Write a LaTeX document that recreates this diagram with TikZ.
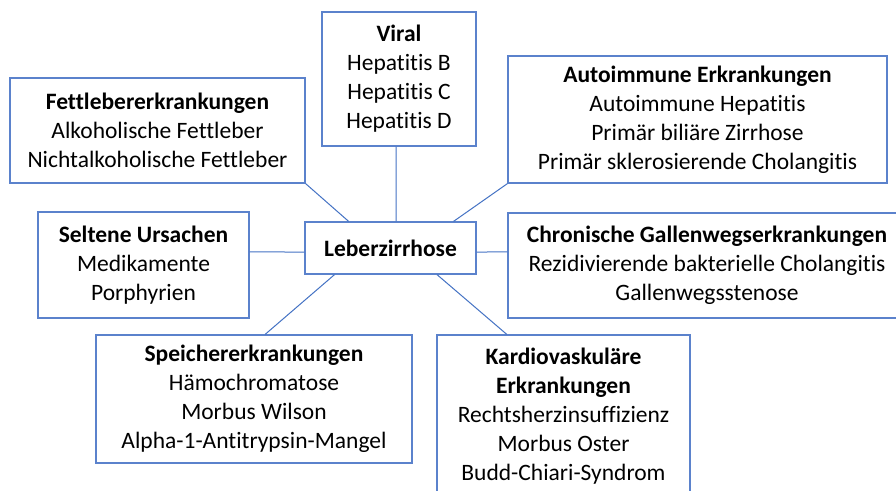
\documentclass[tikz,border=0pt]{standalone}
\usepackage{fontspec}
\setmainfont[Ligatures=NoCommon]{Carlito}
\usetikzlibrary{calc}
\definecolor{lineblue}{HTML}{4472C4}
\definecolor{boxblue}{HTML}{5B82CC}
\tikzset{
  cbox/.style={draw=boxblue, line width=1.2pt, fill=white, align=center, inner sep=0pt,
    font=\fontsize{23.5}{29}\selectfont},
  conn/.style={draw=lineblue, line width=1pt}
}
\begin{document}
\begin{tikzpicture}[x=1pt,y=-1pt]
\clip (0,0) rectangle (896,490);
\fill[white] (0,0) rectangle (896,490);
\node[cbox, minimum width=295pt, minimum height=105pt] (fett) at (157.5,130.5)
  {\textbf{Fettlebererkrankungen}\\Alkoholische Fettleber\\Nichtalkoholische Fettleber};
\node[cbox, minimum width=154pt, minimum height=134pt] (viral) at (399,79)
  {\textbf{Viral}\\Hepatitis B\\Hepatitis C\\Hepatitis D};
\node[cbox, minimum width=379pt, minimum height=127pt] (auto) at (697.5,119.5)
  {\textbf{Autoimmune Erkrankungen}\\Autoimmune Hepatitis\\Primär biliäre Zirrhose\\Primär sklerosierende Cholangitis};
\node[cbox, minimum width=171pt, minimum height=52pt] (leber) at (390.5,248)
  {\textbf{Leberzirrhose}};
\node[cbox, minimum width=211pt, minimum height=106pt] (selten) at (143.5,265)
  {\textbf{Seltene Ursachen}\\Medikamente\\Porphyrien};
\node[cbox, minimum width=398pt, minimum height=105pt] (chron) at (707,265.5)
  {\textbf{Chronische Gallenwegserkrankungen}\\Rezidivierende bakterielle Cholangitis\\Gallenwegsstenose};
\node[cbox, minimum width=316pt, minimum height=128pt] (speicher) at (254,399)
  {\textbf{Speichererkrankungen}\\Hämochromatose\\Morbus Wilson\\Alpha-1-Antitrypsin-Mangel};
\node[cbox, minimum width=253pt, minimum height=163pt] (kardio) at (563.5,416.5)
  {\textbf{Kardiovaskuläre}\\\textbf{Erkrankungen}\\Rechtsherzinsuffizienz\\Morbus Oster\\Budd-Chiari-Syndrom};
\draw[conn] (fett.south east) -- ($(leber.north west)!0.257!(leber.north east)$);
\draw[conn] ($(viral.south west)!0.481!(viral.south east)$) -- ($(leber.north west)!0.532!(leber.north east)$);
\draw[conn] (auto.south west) -- ($(leber.north west)!0.866!(leber.north east)$);
\draw[conn] ($(selten.north east)!0.377!(selten.south east)$) -- ($(leber.north west)!0.577!(leber.south west)$);
\draw[conn] ($(leber.north east)!0.577!(leber.south east)$) -- ($(chron.north west)!0.371!(chron.south west)$);
\draw[conn] ($(leber.south west)!0.175!(leber.south east)$) -- ($(speicher.north west)!0.535!(speicher.north east)$);
\draw[conn] ($(leber.south west)!0.77!(leber.south east)$) -- ($(kardio.north west)!0.277!(kardio.north east)$);
\end{tikzpicture}
\end{document}
